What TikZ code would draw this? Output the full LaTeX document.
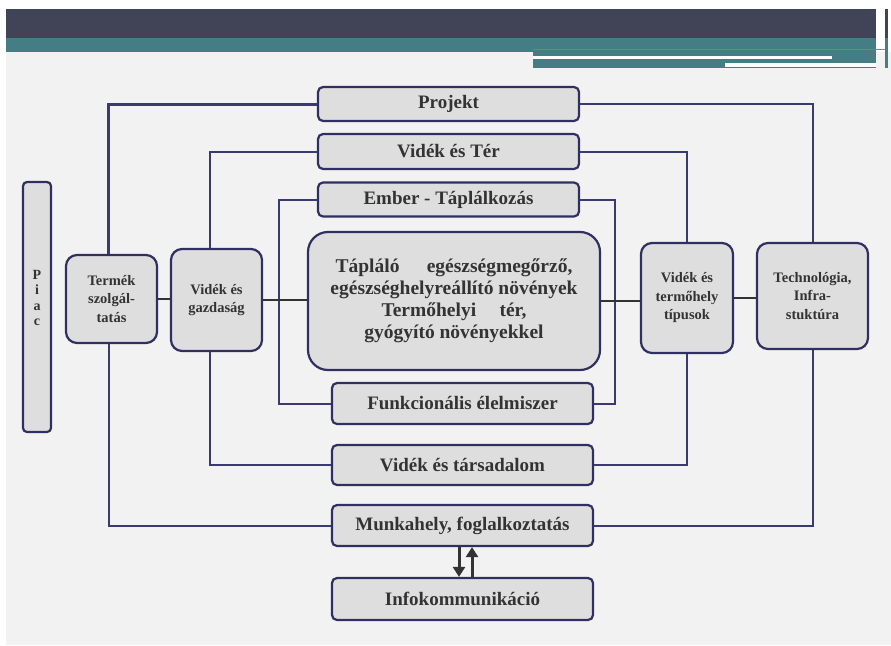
\documentclass[tikz,border=0pt]{standalone}
\usepackage{fontspec}
\setmainfont{Liberation Serif}
\usetikzlibrary{arrows.meta}
\definecolor{navy}{HTML}{2F2F62}
\definecolor{connc}{HTML}{3A3A70}
\definecolor{boxfill}{HTML}{DEDEDE}
\definecolor{txt}{HTML}{333333}
\definecolor{darkband}{HTML}{414456}
\definecolor{tealband}{HTML}{447E84}
\definecolor{bg}{HTML}{F2F2F2}
\begin{document}
\begin{tikzpicture}[x=1pt,y=-1pt,
  boxbase/.style={draw=navy, fill=boxfill, line width=2.2pt, text=txt, inner sep=0pt, align=center},
  hbox/.style={boxbase, rounded corners=5pt, font=\bfseries\fontsize{19}{22}\selectfont},
  sbox/.style={boxbase, rounded corners=11pt, font=\bfseries\fontsize{14.5}{18.5}\selectfont},
  bigbox/.style={boxbase, rounded corners=20pt, font=\bfseries\fontsize{19.5}{22}\selectfont},
  conn/.style={draw=connc, line width=2pt},
  thickconn/.style={draw=connc, line width=3pt},
  hconn/.style={draw=txt, line width=2.6pt},
  arr/.style={draw=txt, line width=3pt, -{Triangle[width=12pt,length=10pt]}}
]
\useasboundingbox (0,0) rectangle (891,645);
% background and header
\fill[white] (0,0) rectangle (891,645);
\fill[bg] (6,52) rectangle (891,645);
\fill[darkband] (6,9) rectangle (876,38);
\fill[tealband] (6,38) rectangle (876,52);
\fill[tealband] (533,52) rectangle (876,68);
\draw[gray, line width=0.6pt] (533,49) -- (888,49);
\fill[white] (533,56) rectangle (832,58.5);
\fill[white] (725,63) rectangle (876,67);
\fill[darkband] (885,9) rectangle (887.5,38);
\fill[tealband] (885,38) rectangle (887.5,68);

% nodes
\node[sbox, rounded corners=4pt, minimum width=28pt, minimum height=250pt] (piac) at (37,307) {};
\node[text=txt, align=center, inner sep=0pt, font=\bfseries\fontsize{14}{15.5}\selectfont] (piactext) at (37,298) {P\\i\\a\\c};
\node[sbox, minimum width=91pt, minimum height=88pt] (termek) at (111.5,299) {Termék\\szolgál-\\tatás};
\node[sbox, minimum width=91pt, minimum height=102pt] (vgazd) at (216.5,300) {Vidék és\\gazdaság};
\node[bigbox, minimum width=292pt, minimum height=138pt] (center) at (454,301)
  {Tápláló\hspace{1.4em}egészségmegőrző,\\egészséghelyreállító növények\\Termőhelyi\hspace{1.2em}tér,\\gyógyító növényekkel};
\node[sbox, minimum width=92pt, minimum height=110pt] (vterm) at (687,298) {Vidék és\\termőhely\\típusok};
\node[sbox, minimum width=111pt, minimum height=106pt] (tech) at (812.5,296) {Technológia,\\Infra-\\stuktúra};

\node[hbox, minimum width=261pt, minimum height=34pt] (projekt) at (448.5,104) {Projekt};
\node[hbox, minimum width=261pt, minimum height=35pt] (vter) at (448.5,151.5) {Vidék és Tér};
\node[hbox, minimum width=261pt, minimum height=34pt] (ember) at (448.5,199.5) {Ember - Táplálkozás};
\node[hbox, minimum width=261pt, minimum height=41pt] (funk) at (462.5,403.5) {Funkcionális élelmiszer};
\node[hbox, minimum width=261pt, minimum height=40pt] (vtars) at (462.5,465) {Vidék és társadalom};
\node[hbox, minimum width=261pt, minimum height=41pt] (munka) at (462.5,525.5) {Munkahely, foglalkoztatás};
\node[hbox, minimum width=261pt, minimum height=42pt] (info) at (462.5,599) {Infokommunikáció};

\coordinate (eL) at (279,300);
\coordinate (eR) at (615,300);

% outer loop
\draw[thickconn] (projekt.west) -| ([xshift=-3pt]termek.north);
\draw[conn] (projekt.east) -| (tech.north);
\draw[conn] ([xshift=-3pt]termek.south) |- (munka.west);
\draw[conn] (munka.east) -| (tech.south);
% middle loop
\draw[conn] (vter.west) -| ([xshift=-7pt]vgazd.north);
\draw[conn] (vter.east) -| (vterm.north);
\draw[conn] ([xshift=-7pt]vgazd.south) |- (vtars.west);
\draw[conn] (vtars.east) -| (vterm.south);
% inner loop
\draw[conn] (ember.west) -- (ember.west -| eL) -- (eL |- funk.west) -- (funk.west);
\draw[conn] (ember.east) -- (ember.east -| eR) -- (eR |- funk.east) -- (funk.east);
% horizontal chain
\draw[hconn] (termek.east) -- (termek.east -| vgazd.west);
\draw[hconn] (vgazd.east) -- (vgazd.east -| center.west);
\draw[hconn] (center.east) -- (center.east -| vterm.west);
\draw[hconn] (vterm.east) -- (vterm.east -| tech.west);
% arrows
\draw[arr] ([xshift=-3.5pt]munka.south) -- ([xshift=-3.5pt]info.north);
\draw[arr] ([xshift=9.5pt]info.north) -- ([xshift=9.5pt]munka.south);
\end{tikzpicture}
\end{document}
